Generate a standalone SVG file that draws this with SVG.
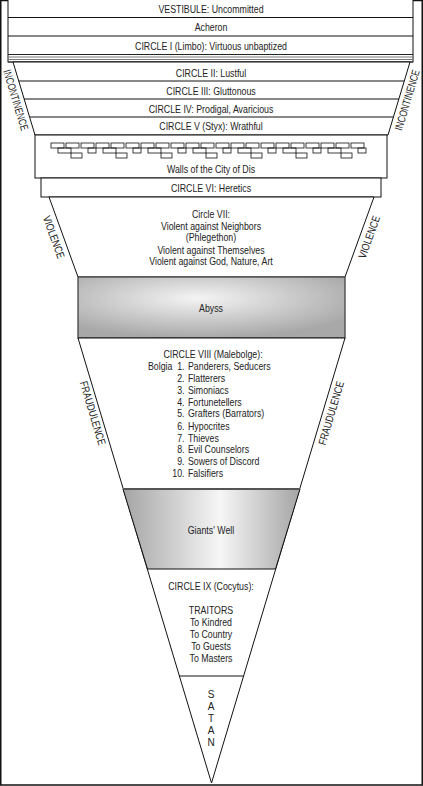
<svg xmlns="http://www.w3.org/2000/svg" width="423" height="786" viewBox="0 0 423 786">
<style>
text{font-family:"Liberation Sans",Arial,sans-serif;font-size:11px;fill:#222;}
.c{text-anchor:middle;}
.e{text-anchor:end;}
.ln{stroke:#111;stroke-width:1;fill:none;}
.sh{stroke:#111;stroke-width:1;fill:#fff;}
.side{font-size:11px;text-anchor:middle;}
</style>
<defs>
<radialGradient id="gAbyss" cx="0.45" cy="0.35" r="0.65">
<stop offset="0" stop-color="#f4f4f4"/>
<stop offset="1" stop-color="#a8a8a8"/>
</radialGradient>
<linearGradient id="gWell" x1="0" y1="0" x2="1" y2="0">
<stop offset="0" stop-color="#a5a5a5"/>
<stop offset="0.55" stop-color="#f6f6f6"/>
<stop offset="1" stop-color="#a5a5a5"/>
</linearGradient>
<g id="brick" fill="none" stroke="#111" stroke-width="0.8">
<rect x="0" y="0" width="13" height="5"/>
<rect x="15" y="0" width="13" height="5"/>
<rect x="30" y="0" width="13" height="5"/>
<rect x="7" y="5" width="13" height="5"/>
<rect x="37" y="5" width="8" height="5"/>
<rect x="20" y="10" width="11" height="5"/>
</g>
</defs>
<rect x="0.75" y="0.5" width="421.5" height="784.5" fill="#fff" stroke="#111" stroke-width="1.5"/>

<g id="vestibule">
<rect x="8" y="-1" width="405" height="63" class="sh"/>
<line x1="8" y1="17.5" x2="413" y2="17.5" class="ln"/>
<text transform="translate(211,13) scale(0.8,1)" class="c">VESTIBULE: Uncommitted</text>
</g>
<g id="acheron">
<line x1="8" y1="36" x2="413" y2="36" class="ln"/>
<text transform="translate(211,31) scale(0.8,1)" class="c">Acheron</text>
</g>
<g id="circle1">
<text transform="translate(211,49.5) scale(0.8,1)" class="c">CIRCLE I (Limbo): Virtuous unbaptized</text>
<line x1="8" y1="54.5" x2="413" y2="54.5" stroke="#222" stroke-width="1.2"/>
<line x1="8" y1="57" x2="413" y2="57" stroke="#777" stroke-width="1"/>
<line x1="8" y1="59.5" x2="413" y2="59.5" stroke="#777" stroke-width="1"/>
<line x1="8" y1="62" x2="413" y2="62" stroke="#333" stroke-width="1"/>
</g>

<g id="incontinence">
<polygon points="13,62 410,62 388,135 35,135" class="sh"/>
<line x1="19" y1="81" x2="404" y2="81" class="ln"/>
<line x1="24" y1="99" x2="399" y2="99" class="ln"/>
<line x1="30" y1="117" x2="393" y2="117" class="ln"/>
<text transform="translate(211,77) scale(0.8,1)" class="c">CIRCLE II: Lustful</text>
<text transform="translate(211,94.5) scale(0.8,1)" class="c">CIRCLE III: Gluttonous</text>
<text transform="translate(211,112.5) scale(0.8,1)" class="c">CIRCLE IV: Prodigal, Avaricious</text>
<text transform="translate(211,130) scale(0.8,1)" class="c">CIRCLE V (Styx): Wrathful</text>
<text class="side" transform="translate(16,100) rotate(73.2) scale(0.75,1)" y="4">INCONTINENCE</text>
<text class="side" transform="translate(407,100) rotate(-73.2) scale(0.75,1)" y="4">INCONTINENCE</text>
</g>

<g id="walls">
<rect x="35" y="135" width="352" height="43" class="sh"/>
<use href="#brick" x="51" y="143"/>
<use href="#brick" x="96" y="143"/>
<use href="#brick" x="141" y="143"/>
<use href="#brick" x="186" y="143"/>
<use href="#brick" x="231" y="143"/>
<use href="#brick" x="276" y="143"/>
<use href="#brick" x="321" y="143"/>
<text transform="translate(211,173) scale(0.8,1)" class="c">Walls of the City of Dis</text>
</g>

<g id="circle6">
<rect x="41" y="178" width="340" height="19" class="sh"/>
<text transform="translate(211,191.5) scale(0.8,1)" class="c">CIRCLE VI: Heretics</text>
</g>

<g id="circle7">
<polygon points="49,197 374,197 345,277 78,277" class="sh"/>
<text transform="translate(211,217.5) scale(0.8,1)" class="c">Circle VII:</text>
<text transform="translate(211,229.5) scale(0.8,1)" class="c">Violent against Neighbors</text>
<text transform="translate(211,241) scale(0.8,1)" class="c">(Phlegethon)</text>
<text transform="translate(211,253.5) scale(0.8,1)" class="c">Violent against Themselves</text>
<text transform="translate(211,265) scale(0.8,1)" class="c">Violent against God, Nature, Art</text>
<text class="side" transform="translate(54,237) rotate(70) scale(0.8,1)" y="4">VIOLENCE</text>
<text class="side" transform="translate(369,237) rotate(-70) scale(0.8,1)" y="4">VIOLENCE</text>
</g>

<g id="abyss">
<rect x="78" y="277" width="267" height="61" fill="url(#gAbyss)" stroke="#444" stroke-width="1.3"/>
<text transform="translate(211,311.5) scale(0.8,1)" class="c">Abyss</text>
</g>

<g id="circle8">
<polygon points="78,338 345,338 211.5,783" class="sh"/>
<text transform="translate(213,357.5) scale(0.8,1)" class="c">CIRCLE VIII (Malebolge):</text>
<text transform="translate(148,369.5) scale(0.8,1)">Bolgia</text>
<text transform="translate(184.5,369.5) scale(0.8,1)" class="e">1.</text><text transform="translate(188,369.5) scale(0.8,1)">Panderers, Seducers</text>
<text transform="translate(184.5,381.5) scale(0.8,1)" class="e">2.</text><text transform="translate(188,381.5) scale(0.8,1)">Flatterers</text>
<text transform="translate(184.5,393.5) scale(0.8,1)" class="e">3.</text><text transform="translate(188,393.5) scale(0.8,1)">Simoniacs</text>
<text transform="translate(184.5,405.5) scale(0.8,1)" class="e">4.</text><text transform="translate(188,405.5) scale(0.8,1)">Fortunetellers</text>
<text transform="translate(184.5,417) scale(0.8,1)" class="e">5.</text><text transform="translate(188,417) scale(0.8,1)">Grafters (Barrators)</text>
<text transform="translate(184.5,429.5) scale(0.8,1)" class="e">6.</text><text transform="translate(188,429.5) scale(0.8,1)">Hypocrites</text>
<text transform="translate(184.5,441.5) scale(0.8,1)" class="e">7.</text><text transform="translate(188,441.5) scale(0.8,1)">Thieves</text>
<text transform="translate(184.5,453) scale(0.8,1)" class="e">8.</text><text transform="translate(188,453) scale(0.8,1)">Evil Counselors</text>
<text transform="translate(184.5,465) scale(0.8,1)" class="e">9.</text><text transform="translate(188,465) scale(0.8,1)">Sowers of Discord</text>
<text transform="translate(184.5,477) scale(0.8,1)" class="e">10.</text><text transform="translate(188,477) scale(0.8,1)">Falsifiers</text>
<text class="side" transform="translate(93,413) rotate(73.4) scale(0.8,1)" y="4">FRAUDULENCE</text>
<text class="side" transform="translate(331,413) rotate(-73.4) scale(0.8,1)" y="4">FRAUDULENCE</text>
</g>

<g id="giants-well">
<polygon points="123,489 300,489 275.5,569 147.5,569" fill="url(#gWell)" stroke="#111" stroke-width="1"/>
<line x1="123" y1="489" x2="300" y2="489" stroke="#555" stroke-width="2"/>
<text transform="translate(211,534) scale(0.8,1)" class="c">Giants' Well</text>
</g>

<g id="circle9">
<text transform="translate(211,590) scale(0.8,1)" class="c">CIRCLE IX (Cocytus):</text>
<text transform="translate(211,614) scale(0.8,1)" class="c">TRAITORS</text>
<text transform="translate(211,626) scale(0.8,1)" class="c">To Kindred</text>
<text transform="translate(211,638) scale(0.8,1)" class="c">To Country</text>
<text transform="translate(211,650) scale(0.8,1)" class="c">To Guests</text>
<text transform="translate(211,662) scale(0.8,1)" class="c">To Masters</text>
<line x1="179" y1="676" x2="243.5" y2="676" class="ln"/>
</g>

<g id="satan">
<text x="211" y="698" class="c" style="font-size:10px">S</text>
<text x="211" y="710" class="c" style="font-size:10px">A</text>
<text x="211" y="722" class="c" style="font-size:10px">T</text>
<text x="211" y="734" class="c" style="font-size:10px">A</text>
<text x="211" y="746" class="c" style="font-size:10px">N</text>
</g>
<g id="connectors"></g>
</svg>
